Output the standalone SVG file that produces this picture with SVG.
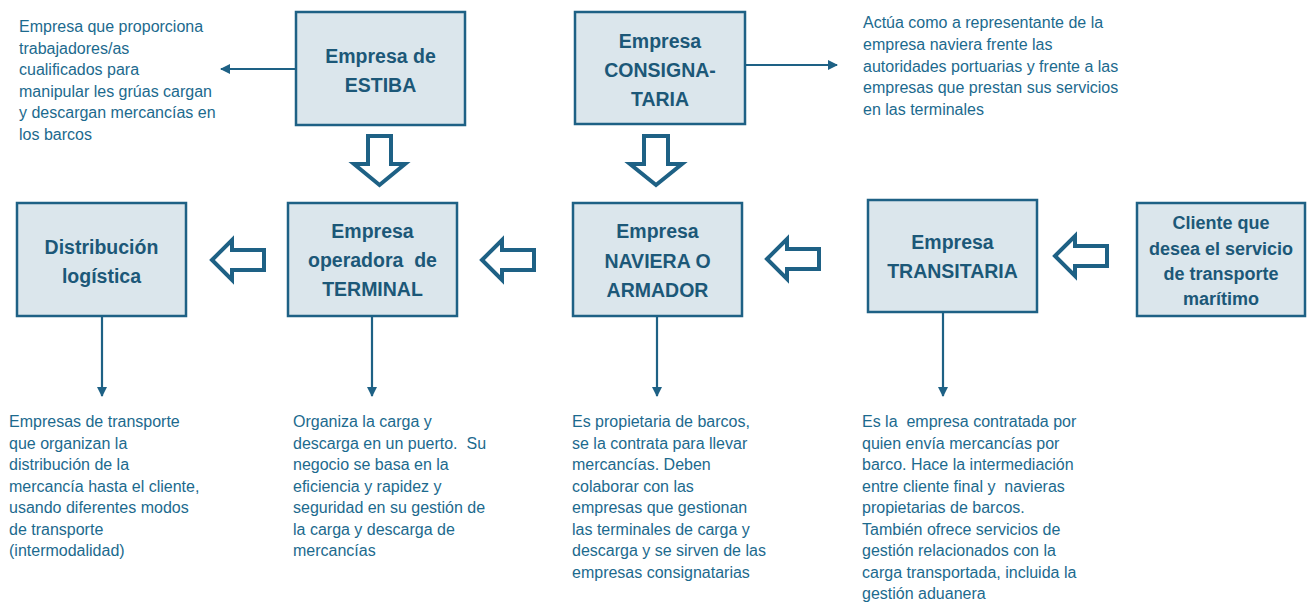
<svg xmlns="http://www.w3.org/2000/svg" width="1310" height="602" viewBox="0 0 1310 602">
<defs>
<style>
.box{fill:#dbe6ec;stroke:#1e6185;stroke-width:2.5}
.bt{font-family:"Liberation Sans",Arial,sans-serif;font-weight:bold;font-size:19.5px;fill:#1c5878;text-anchor:middle}
.tx{font-family:"Liberation Sans",Arial,sans-serif;font-size:16px;fill:#1c6a8e}
.ln{stroke:#1e6185;stroke-width:2.2;fill:none}
.blk{fill:#ffffff;stroke:#1e6185;stroke-width:4;stroke-linejoin:miter}
</style>
<marker id="ah" markerUnits="userSpaceOnUse" markerWidth="12" markerHeight="12" viewBox="0 0 12 12" refX="10" refY="6" orient="auto">
<path d="M1,1 L11,6 L1,11 Z" fill="#1e6185"/>
</marker>
</defs>
<rect width="1310" height="602" fill="#ffffff"/>

<g id="estiba">
<rect class="box" x="296" y="12" width="169" height="113"/>
<text class="bt" x="380.5" y="63">Empresa de</text>
<text class="bt" x="380.5" y="92">ESTIBA</text>
</g>
<g id="consignataria">
<rect class="box" x="575" y="12" width="170" height="112"/>
<text class="bt" x="660" y="48">Empresa</text>
<text class="bt" x="660" y="77">CONSIGNA-</text>
<text class="bt" x="660" y="106">TARIA</text>
</g>
<g id="distribucion">
<rect class="box" x="17" y="203" width="169" height="113"/>
<text class="bt" x="101.5" y="254">Distribución</text>
<text class="bt" x="101.5" y="283">logística</text>
</g>
<g id="terminal">
<rect class="box" x="288" y="203" width="169" height="113"/>
<text class="bt" x="372.5" y="238">Empresa</text>
<text class="bt" x="372.5" y="267" xml:space="preserve">operadora  de</text>
<text class="bt" x="372.5" y="296">TERMINAL</text>
</g>
<g id="naviera">
<rect class="box" x="573" y="203" width="169" height="113"/>
<text class="bt" x="657.5" y="238">Empresa</text>
<text class="bt" x="657.5" y="268">NAVIERA O</text>
<text class="bt" x="657.5" y="297">ARMADOR</text>
</g>
<g id="transitaria">
<rect class="box" x="868" y="200" width="169" height="112"/>
<text class="bt" x="952.5" y="249">Empresa</text>
<text class="bt" x="952.5" y="278">TRANSITARIA</text>
</g>
<g id="cliente">
<rect class="box" x="1137" y="203" width="168" height="113"/>
<text class="bt" x="1221" y="229" style="font-size:18px">Cliente que</text>
<text class="bt" x="1221" y="255" style="font-size:18px">desea el servicio</text>
<text class="bt" x="1221" y="280" style="font-size:18px">de transporte</text>
<text class="bt" x="1221" y="305" style="font-size:18px">marítimo</text>
</g>

<g id="connectors">
<path class="ln" d="M296,69 L221,69" marker-end="url(#ah)"/>
<path class="ln" d="M745,65 L837,65" marker-end="url(#ah)"/>
<path class="ln" d="M102,316 L102,396" marker-end="url(#ah)"/>
<path class="ln" d="M372,316 L372,396" marker-end="url(#ah)"/>
<path class="ln" d="M657,316 L657,396" marker-end="url(#ah)"/>
<path class="ln" d="M943,313 L943,396" marker-end="url(#ah)"/>
<path class="blk" d="M368,136 L391,136 L391,164 L405,164 L379.5,185 L354,164 L368,164 Z"/>
<path class="blk" d="M644,136 L668,136 L668,164 L682,164 L656,185 L630,164 L644,164 Z"/>
<path class="blk" d="M212,260 L232,240 L232,250 L264,250 L264,270 L232,270 L232,280 Z"/>
<path class="blk" d="M482,260 L502,240 L502,250 L534,250 L534,270 L502,270 L502,280 Z"/>
<path class="blk" d="M767,259 L787,239 L787,249 L819,249 L819,269 L787,269 L787,279 Z"/>
<path class="blk" d="M1055,256 L1075,236 L1075,246 L1107,246 L1107,266 L1075,266 L1075,276 Z"/>
</g>

<g id="text-estiba">
<text class="tx" x="19" y="32">Empresa que proporciona</text>
<text class="tx" x="19" y="53.5">trabajadores/as</text>
<text class="tx" x="19" y="75">cualificados para</text>
<text class="tx" x="19" y="96.5">manipular les grúas cargan</text>
<text class="tx" x="19" y="118">y descargan mercancías en</text>
<text class="tx" x="19" y="139.5">los barcos</text>
</g>
<g id="text-consignataria">
<text class="tx" x="863" y="28">Actúa como a representante de la</text>
<text class="tx" x="863" y="50">empresa naviera frente las</text>
<text class="tx" x="863" y="71.5">autoridades portuarias y frente a las</text>
<text class="tx" x="863" y="93">empresas que prestan sus servicios</text>
<text class="tx" x="863" y="114.5">en las terminales</text>
</g>
<g id="text-distribucion">
<text class="tx" x="9" y="427">Empresas de transporte</text>
<text class="tx" x="9" y="448.5">que organizan la</text>
<text class="tx" x="9" y="470">distribución de la</text>
<text class="tx" x="9" y="491.5">mercancía hasta el cliente,</text>
<text class="tx" x="9" y="513">usando diferentes modos</text>
<text class="tx" x="9" y="534.5">de transporte</text>
<text class="tx" x="9" y="556">(intermodalidad)</text>
</g>
<g id="text-terminal">
<text class="tx" x="293" y="427">Organiza la carga y</text>
<text class="tx" x="293" y="448.5" xml:space="preserve">descarga en un puerto.  Su</text>
<text class="tx" x="293" y="470">negocio se basa en la</text>
<text class="tx" x="293" y="491.5">eficiencia y rapidez y</text>
<text class="tx" x="293" y="513">seguridad en su gestión de</text>
<text class="tx" x="293" y="534.5">la carga y descarga de</text>
<text class="tx" x="293" y="556">mercancías</text>
</g>
<g id="text-naviera">
<text class="tx" x="572" y="427">Es propietaria de barcos,</text>
<text class="tx" x="572" y="448.5">se la contrata para llevar</text>
<text class="tx" x="572" y="470">mercancías. Deben</text>
<text class="tx" x="572" y="491.5">colaborar con las</text>
<text class="tx" x="572" y="513">empresas que gestionan</text>
<text class="tx" x="572" y="534.5">las terminales de carga y</text>
<text class="tx" x="572" y="556">descarga y se sirven de las</text>
<text class="tx" x="572" y="577.5">empresas consignatarias</text>
</g>
<g id="text-transitaria">
<text class="tx" x="862" y="427" xml:space="preserve">Es la  empresa contratada por</text>
<text class="tx" x="862" y="448.5">quien envía mercancías por</text>
<text class="tx" x="862" y="470">barco. Hace la intermediación</text>
<text class="tx" x="862" y="491.5" xml:space="preserve">entre cliente final y  navieras</text>
<text class="tx" x="862" y="513">propietarias de barcos.</text>
<text class="tx" x="862" y="534.5">También ofrece servicios de</text>
<text class="tx" x="862" y="556">gestión relacionados con la</text>
<text class="tx" x="862" y="577.5">carga transportada, incluida la</text>
<text class="tx" x="862" y="599">gestión aduanera</text>
</g>
</svg>
